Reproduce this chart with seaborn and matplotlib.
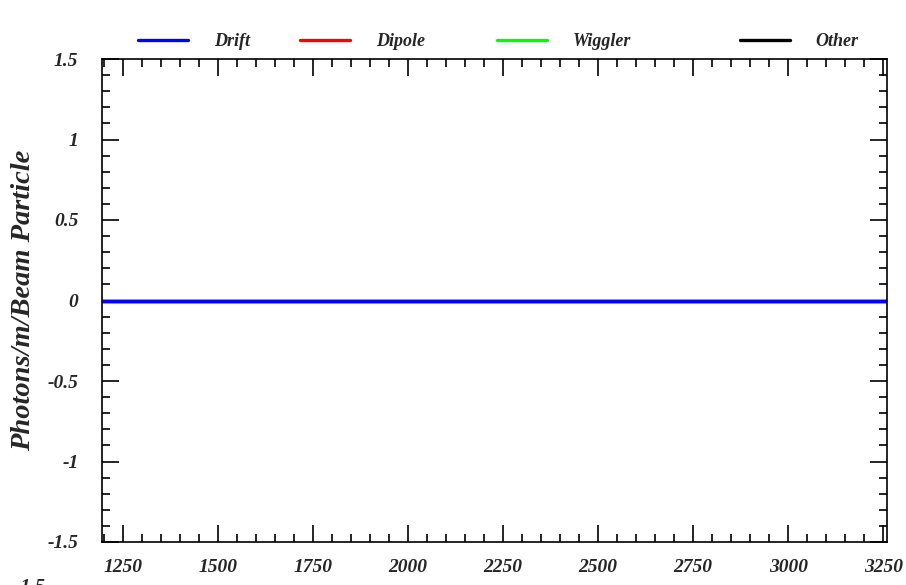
import numpy as np
import pandas as pd
import seaborn as sns
import matplotlib.pyplot as plt
from matplotlib.ticker import MultipleLocator

# Data
s_positions = [1195, 1500, 2000, 2500, 3000, 3260]
drift = [0, 0, 0, 0, 0, 0]
dipole = [0, 0, 0, 0, 0, 0]
wiggler = [0, 0, 0, 0, 0, 0]
other = [0, 0, 0, 0, 0, 0]
series_names = ["Drift", "Dipole", "Wiggler", "Other"]
series_colors = ["#0000ff", "#ff0000", "#00ff00", "#000000"]
x_ticks = [1250, 1500, 1750, 2000, 2250, 2500, 2750, 3000, 3250]
y_ticks = [-1.5, -1, -0.5, 0, 0.5, 1, 1.5]
y_tick_labels = ["-1.5", "-1", "-0.5", "0", "0.5", "1", "1.5"]

sns.set_style("ticks")
plt.rcParams['font.family'] = ['Liberation Serif', 'DejaVu Serif']

rows = []
for name, vals in zip(series_names, [drift, dipole, wiggler, other]):
    for x, v in zip(s_positions, vals):
        rows.append({"s": x, "val": v, "series": name})
df = pd.DataFrame(rows)

fig = plt.figure(figsize=(9.06, 5.85), dpi=100)
ax = fig.add_axes([102/906, 1 - 542/585, (887-102)/906, (542-59)/585])

order = ["Other", "Wiggler", "Dipole", "Drift"]
pal = dict(zip(series_names, series_colors))
for name in order:
    sub = df[df.series == name]
    sns.lineplot(data=sub, x="s", y="val", color=pal[name], lw=2.4, ax=ax,
                 legend=False)

ax.set_xlim(1195, 3260)
ax.set_ylim(-1.5, 1.5)
ax.set_xticks(x_ticks)
ax.set_yticks(y_ticks)
ax.set_xticklabels([str(t) for t in x_ticks])
ax.set_yticklabels(y_tick_labels)
ax.xaxis.set_minor_locator(MultipleLocator(50))
ax.yaxis.set_minor_locator(MultipleLocator(0.1))
ax.tick_params(which='both', direction='in', top=True, right=True, color='black', width=1.2)
ax.tick_params(which='major', length=12)
ax.tick_params(which='minor', length=6)
ax.tick_params(axis='x', which='major', pad=12)
ax.tick_params(axis='y', which='major', pad=17)
for lab in ax.get_xticklabels() + ax.get_yticklabels():
    lab.set_fontsize(14)
    lab.set_fontweight('bold')
    lab.set_fontstyle('italic')
for sp in ax.spines.values():
    sp.set_visible(True)
    sp.set_linewidth(1.2)
    sp.set_color('black')

ax.set_xlabel("")
ax.set_ylabel("Photons/m/Beam Particle", fontsize=20.5, fontweight='bold',
              fontstyle='italic')
ax.yaxis.set_label_coords(-66/785, 0.5)

legend_x = [138, 300, 497, 740]
for name, col, xpx in zip(series_names, series_colors, legend_x):
    h = plt.Line2D([], [], color=col, lw=2.4)
    fig.legend([h], [name], loc='center left', frameon=False,
               bbox_to_anchor=(xpx/906, 1 - 42/585), handlelength=2.75,
               handletextpad=1.45, borderpad=0, borderaxespad=0,
               prop={'family': 'Liberation Serif', 'weight': 'bold',
                     'style': 'italic', 'size': 13})

fig.text(30/906, -0.005, "-1.5", fontsize=14, fontweight='bold',
         fontstyle='italic', ha='center', va='center')

fig.savefig("out.png", dpi=100)
